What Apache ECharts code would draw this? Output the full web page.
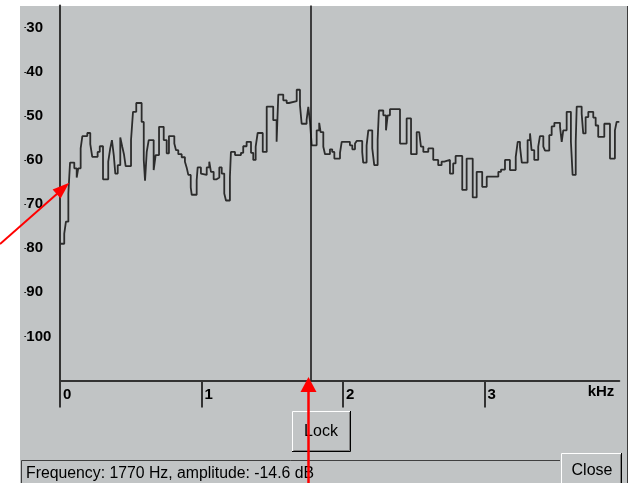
<!DOCTYPE html>
<html><head><meta charset="utf-8">
<script src="https://cdn.jsdelivr.net/npm/echarts@6/dist/echarts.min.js"></script>
<style>
html,body{margin:0;padding:0;background:#fff;}
#wrap{position:relative;width:630px;height:483px;overflow:hidden;}
#bg{position:absolute;left:20px;top:6px;width:607px;height:477px;background:#c1c4c5;border-right:1px solid #3c3c3c;}
#chart{position:absolute;left:0;top:0;width:630px;height:483px;}
</style></head><body>
<div id="wrap"><div id="bg"></div><div id="chart"></div></div>
<script>
const freqKHz = [0.000,0.030,0.042,0.059,0.071,0.101,0.118,0.129,0.146,0.158,0.193,0.214,0.228,0.266,0.281,0.304,0.341,0.355,0.367,0.380,0.391,0.408,0.426,0.440,0.452,0.464,0.502,0.516,0.539,0.577,0.592,0.601,0.613,0.627,0.662,0.676,0.700,0.733,0.754,0.770,0.808,0.820,0.836,0.860,0.883,0.895,0.907,0.924,0.931,0.966,0.973,0.996,1.008,1.037,1.055,1.067,1.086,1.107,1.126,1.143,1.161,1.173,1.201,1.208,1.237,1.279,1.295,1.319,1.350,1.366,1.383,1.397,1.433,1.461,1.507,1.531,1.543,1.578,1.602,1.618,1.673,1.696,1.708,1.743,1.755,1.767,1.779,1.814,1.832,1.842,1.861,1.873,1.908,1.924,1.939,1.979,1.991,2.049,2.066,2.085,2.097,2.136,2.143,2.167,2.179,2.207,2.221,2.245,2.254,2.285,2.304,2.316,2.332,2.403,2.450,2.481,2.521,2.539,2.551,2.568,2.603,2.638,2.673,2.697,2.716,2.756,2.779,2.796,2.843,2.874,2.917,2.945,2.984,3.016,3.098,3.117,3.145,3.180,3.221,3.235,3.251,3.264,3.305,3.322,3.333,3.352,3.380,3.392,3.416,3.428,3.458,3.475,3.494,3.534,3.546,3.557,3.581,3.611,3.623,3.645,3.652,3.687,3.698,3.715,3.734,3.769,3.786,3.804,3.847,3.887,3.922,3.934,3.953];
const amplitudeDb = [-79.0,-76.7,-74.0,-67.6,-60.6,-61.9,-64.0,-61.9,-57.4,-54.6,-53.9,-56.4,-59.3,-58.2,-56.9,-64.4,-60.4,-57.4,-55.5,-58.9,-63.1,-61.2,-54.9,-57.0,-58.7,-61.4,-55.5,-49.1,-47.1,-51.4,-60.0,-64.7,-58.2,-55.5,-62.3,-58.9,-52.5,-55.5,-58.5,-54.6,-56.3,-57.8,-58.7,-59.4,-60.4,-61.7,-63.4,-66.2,-67.9,-64.6,-61.7,-63.1,-63.4,-61.7,-60.4,-62.7,-64.4,-64.0,-61.7,-63.1,-67.6,-69.2,-63.8,-58.2,-58.9,-58.4,-56.9,-55.9,-58.4,-60.0,-57.0,-53.9,-58.2,-47.9,-51.0,-55.9,-45.2,-46.5,-47.1,-46.7,-44.1,-47.6,-51.8,-50.9,-48.0,-51.4,-56.7,-53.3,-51.6,-53.7,-57.0,-58.7,-57.6,-58.2,-59.7,-58.4,-55.9,-56.7,-57.6,-56.3,-55.7,-58.2,-60.6,-56.7,-53.3,-57.4,-61.2,-55.5,-48.8,-49.9,-53.3,-49.9,-48.5,-56.3,-50.6,-58.7,-53.7,-53.3,-57.0,-58.2,-57.4,-60.0,-61.2,-60.4,-60.0,-63.1,-60.8,-59.1,-66.8,-59.7,-68.5,-62.7,-66.1,-63.8,-62.7,-62.2,-60.0,-62.3,-59.3,-55.9,-57.0,-60.6,-55.5,-54.0,-57.8,-60.0,-57.0,-54.6,-57.0,-57.9,-54.4,-52.4,-51.6,-52.5,-55.9,-53.3,-49.1,-55.9,-63.4,-55.9,-47.9,-49.5,-54.0,-50.3,-49.1,-50.4,-52.2,-54.8,-51.8,-59.7,-53.3,-51.4,-51.4];
const xTickValues = [0, 1, 2, 3];
const yTickValues = [-100, -90, -80, -70, -60, -50, -40, -30];
const xUnit = 'kHz';
const cursorKHz = 1.77;
const statusText = 'Frequency: 1770 Hz, amplitude: -14.6 dB';
const lockText = 'Lock';
const closeText = 'Close';

const FONT = '"Liberation Sans", Arial, sans-serif';
const GRAY = '#c1c4c5';
const AX = '#333333';
const RED = '#ff0000';

const seriesData = freqKHz.map((f, i) => [f, amplitudeDb[i]]);

const chart = echarts.init(document.getElementById('chart'), null, {renderer: 'canvas'});
chart.setOption({
  animation: false,
  backgroundColor: 'transparent',
  grid: {left: 60, right: 10.7, top: 5.5, bottom: 102.5, containLabel: false},
  xAxis: {
    type: 'value', min: 0, max: 3.953,
    name: xUnit, nameLocation: 'end', nameGap: -5,
    nameTextStyle: {fontFamily: FONT, fontSize: 15, fontWeight: 'bold', color: '#000', align: 'right', verticalAlign: 'top', padding: [4, 0, 0, 0]},
    axisLine: {show: true, lineStyle: {color: AX, width: 2}},
    axisTick: {show: true, customValues: xTickValues, length: 27, lineStyle: {color: AX, width: 2}},
    axisLabel: {show: true, customValues: xTickValues, align: 'left', verticalAlign: 'top', margin: 7, padding: [0, 0, 0, 3],
      fontFamily: FONT, fontSize: 15, fontWeight: 'bold', color: '#000', formatter: v => String(v)},
    splitLine: {show: false}
  },
  yAxis: {
    type: 'value', min: -110, max: -25,
    axisLine: {show: true, lineStyle: {color: AX, width: 2}},
    axisTick: {show: false},
    axisLabel: {show: true, customValues: yTickValues, align: 'left', margin: 36,
      formatter: v => '{m|-}{n|' + Math.abs(v) + '}',
      rich: {
        m: {fontFamily: FONT, fontSize: 7, fontWeight: 'bold', color: '#000', verticalAlign: 'middle'},
        n: {fontFamily: FONT, fontSize: 15, fontWeight: 'bold', color: '#000'}
      }},
    splitLine: {show: false}
  },
  series: [{
    type: 'line', step: 'end', data: seriesData, showSymbol: false, symbol: 'none',
    lineStyle: {color: '#2c2c2c', width: 1.8},
    markLine: {
      silent: true, symbol: ['none', 'none'], label: {show: false},
      lineStyle: {color: '#111', width: 1.5, type: 'solid'},
      data: [{xAxis: cursorKHz}]
    }
  }],
  graphic: [
    {type: 'polyline', z: 100, shape: {points: [[21.5, 483], [21.5, 460.5], [560, 460.5]]}, style: {stroke: '#404040', lineWidth: 1, fill: null}},
    {type: 'text', z: 100, x: 26, y: 474, style: {text: statusText, font: '15.8px ' + FONT, fill: '#000', align: 'left', verticalAlign: 'middle'}},
    {type: 'rect', z: 100, shape: {x: 292, y: 411, width: 58, height: 41}, style: {fill: GRAY}},
    {type: 'polyline', z: 101, shape: {points: [[292.5, 451], [292.5, 411.5], [350, 411.5]]}, style: {stroke: '#ffffff', lineWidth: 1, fill: null}},
    {type: 'polyline', z: 101, shape: {points: [[293.5, 450.5], [349.5, 450.5], [349.5, 412]]}, style: {stroke: '#808080', lineWidth: 1, fill: null}},
    {type: 'polyline', z: 101, shape: {points: [[292, 451.5], [350.5, 451.5], [350.5, 411]]}, style: {stroke: '#000000', lineWidth: 1, fill: null}},
    {type: 'text', z: 102, x: 321, y: 432, style: {text: lockText, font: '16px ' + FONT, fill: '#000', align: 'center', verticalAlign: 'middle'}},
    {type: 'rect', z: 100, shape: {x: 561, y: 453, width: 61, height: 31}, style: {fill: GRAY}},
    {type: 'polyline', z: 101, shape: {points: [[561.5, 483], [561.5, 453.5], [621, 453.5]]}, style: {stroke: '#ffffff', lineWidth: 1, fill: null}},
    {type: 'polyline', z: 101, shape: {points: [[620.5, 454.5], [620.5, 483]]}, style: {stroke: '#808080', lineWidth: 1, fill: null}},
    {type: 'polyline', z: 101, shape: {points: [[621.5, 453], [621.5, 483]]}, style: {stroke: '#000000', lineWidth: 1, fill: null}},
    {type: 'text', z: 102, x: 592, y: 471, style: {text: closeText, font: '16px ' + FONT, fill: '#000', align: 'center', verticalAlign: 'middle'}},
    {type: 'line', z: 110, shape: {x1: 0, y1: 244, x2: 58, y2: 193}, style: {stroke: RED, lineWidth: 2}},
    {type: 'polygon', z: 110, shape: {points: [[69.3, 182.7], [60.6, 198.5], [52.6, 189.5]]}, style: {fill: RED}},
    {type: 'line', z: 110, shape: {x1: 308.5, y1: 483, x2: 308.5, y2: 389}, style: {stroke: RED, lineWidth: 2.5}},
    {type: 'polygon', z: 110, shape: {points: [[308.5, 377], [300.5, 392], [316.5, 392]]}, style: {fill: RED}}
  ]
});
</script>
</body></html>
